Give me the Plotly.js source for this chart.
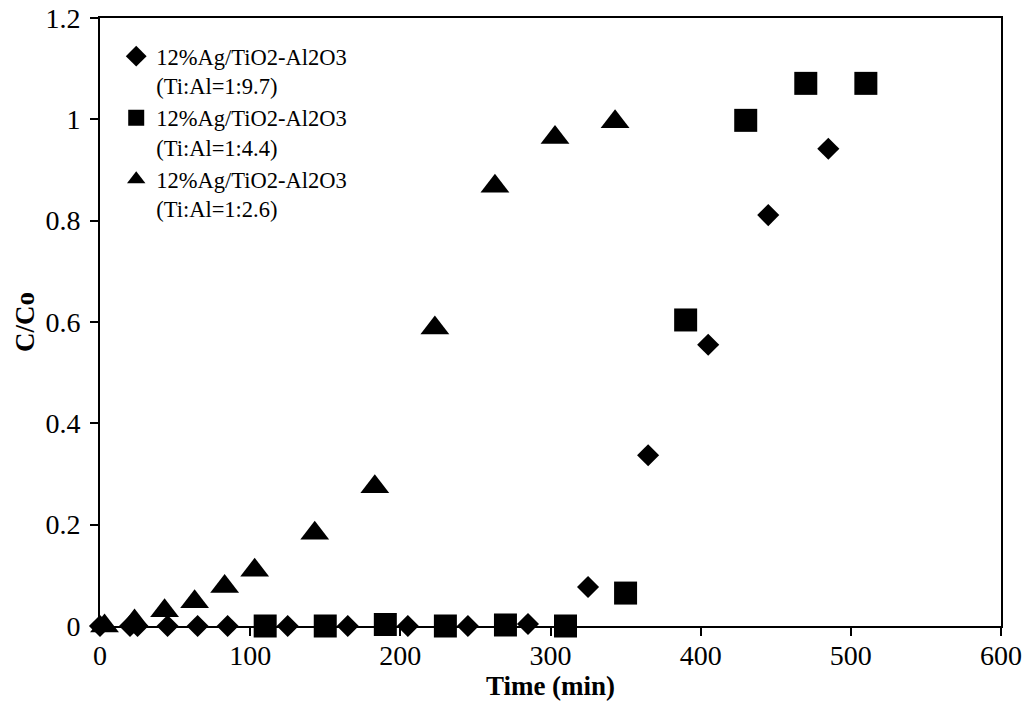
<!DOCTYPE html>
<html>
<head>
<meta charset="utf-8">
<script src="https://cdn.plot.ly/plotly-3.0.1.min.js"></script>
<style>html,body{margin:0;padding:0;background:#fff;}#chart{width:1028px;height:707px;}</style>
</head>
<body>
<div id="chart"></div>
<script>
// Series 1: Ti:Al = 1:9.7 (diamonds)
const timeA = [0, 20, 25, 45, 65, 85, 125, 165, 205, 245, 285, 325, 365, 405, 445, 485];
const ccoA  = [0, 0, 0, 0, 0, 0, 0, 0, 0, 0, 0.004, 0.077, 0.337, 0.555, 0.811, 0.942];
// Series 2: Ti:Al = 1:4.4 (squares)
const timeB = [110, 150, 190, 230, 270, 310, 350, 390, 430, 470, 510];
const ccoB  = [0, 0, 0.003, 0, 0.002, 0, 0.065, 0.604, 0.998, 1.071, 1.071];
// Series 3: Ti:Al = 1:2.6 (triangles)
const timeC = [3, 23, 43, 63, 83, 103, 143, 183, 223, 263, 303, 343];
const ccoC  = [0, 0.01, 0.03, 0.048, 0.078, 0.11, 0.183, 0.275, 0.588, 0.868, 0.964, 0.995];

const names = [
  "12%Ag/TiO2-Al2O3<br>(Ti:Al=1:9.7)",
  "12%Ag/TiO2-Al2O3<br>(Ti:Al=1:4.4)",
  "12%Ag/TiO2-Al2O3<br>(Ti:Al=1:2.6)"
];
const xTicks = [0, 100, 200, 300, 400, 500, 600];
const yTicks = [0, 0.2, 0.4, 0.6, 0.8, 1, 1.2];

const FONT = "Liberation Serif, Times New Roman, serif";

const traces = [
  {x: timeA, y: ccoA, name: names[0], type: "scatter", mode: "markers", cliponaxis: false,
   marker: {symbol: "diamond", size: 17, color: "#000"}},
  {x: timeB, y: ccoB, name: names[1], type: "scatter", mode: "markers", cliponaxis: false,
   marker: {symbol: "square", size: 23, color: "#000"}},
  {x: timeC, y: ccoC, name: names[2], type: "scatter", mode: "markers", cliponaxis: false,
   marker: {symbol: "triangle-up", size: 25, color: "#000"}}
];

const axisCommon = {
  showgrid: false, zeroline: false, showline: true, linecolor: "#000", linewidth: 2,
  mirror: true, ticks: "outside", ticklen: 8, tickwidth: 2, tickcolor: "#000",
  tickfont: {family: FONT, size: 28, color: "#000"}
};

const layout = {
  width: 1028, height: 707,
  margin: {l: 100, r: 27, t: 18, b: 81},
  paper_bgcolor: "#fff", plot_bgcolor: "#fff",
  font: {family: FONT, color: "#000"},
  showlegend: true,
  legend: {
    x: 0.018, y: 0.972, xanchor: "left", yanchor: "top",
    bgcolor: "rgba(0,0,0,0)", borderwidth: 0, valign: "top",
    font: {family: FONT, size: 22.5, color: "#000"},
    itemwidth: 30, tracegroupgap: 0
  },
  xaxis: Object.assign({}, axisCommon, {
    range: [0, 600], tickvals: xTicks, ticklabelstandoff: -5,
    title: {text: "<b>Time (min)</b>", font: {family: FONT, size: 27, color: "#000"}, standoff: 2}
  }),
  yaxis: Object.assign({}, axisCommon, {
    range: [0, 1.2], tickvals: yTicks, ticklabelstandoff: 4,
    title: {text: "<b>C/Co</b>", font: {family: FONT, size: 27, color: "#000"}, standoff: 3}
  })
};

Plotly.newPlot("chart", traces, layout, {displayModeBar: false, staticPlot: true});
</script>
</body>
</html>
